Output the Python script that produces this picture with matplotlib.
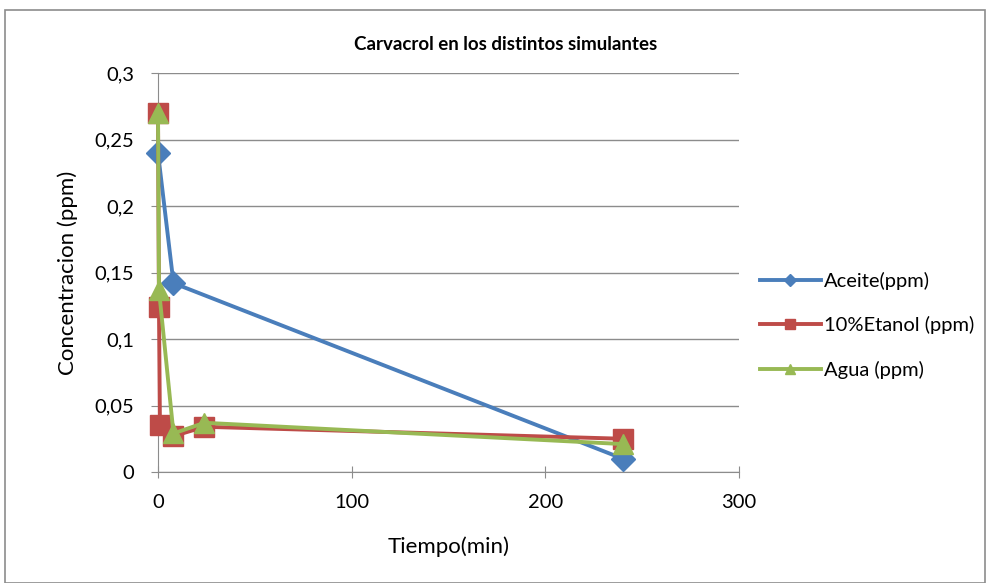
import matplotlib
matplotlib.use("Agg")
import matplotlib.pyplot as plt
from matplotlib.patches import Rectangle

plt.rcParams['font.family'] = ['Lato', 'DejaVu Sans']

# Data
aceite_x = [0, 8, 240]
aceite_y = [0.24, 0.142, 0.01]
etanol_x = [0, 0.5, 1, 8, 24, 240]
etanol_y = [0.27, 0.124, 0.035, 0.027, 0.034, 0.025]
agua_x = [0, 0.5, 8, 24, 240]
agua_y = [0.27, 0.137, 0.029, 0.037, 0.021]
series_names = ["Aceite(ppm)", "10%Etanol (ppm)", "Agua (ppm)"]
y_ticks = [0, 0.05, 0.1, 0.15, 0.2, 0.25, 0.3]
y_tick_labels = ["0", "0,05", "0,1", "0,15", "0,2", "0,25", "0,3"]
x_ticks = [0, 100, 200, 300]
x_tick_labels = ["0", "100", "200", "300"]

W, H = 990, 583
fig = plt.figure(figsize=(W / 100, H / 100), dpi=100)
ax = fig.add_axes([158 / W, 1 - 472 / H, (739 - 158) / W, (472 - 73) / H])

blue = "#4A7EBB"
red = "#BE4B48"
green = "#98B954"

ax.plot(aceite_x, aceite_y, color=blue, lw=2.8, marker="D", ms=12, label=series_names[0], zorder=3, clip_on=False)
ax.plot(etanol_x, etanol_y, color=red, lw=2.8, marker="s", ms=14, label=series_names[1], zorder=4, clip_on=False)
ax.plot(agua_x, agua_y, color=green, lw=2.8, marker="^", ms=14, label=series_names[2], zorder=5, clip_on=False)

ax.set_xlim(0, 300)
ax.set_ylim(0, 0.3)
ax.set_yticks(y_ticks)
ax.set_yticklabels(y_tick_labels)
ax.set_xticks(x_ticks)
ax.set_xticklabels(x_tick_labels)
ax.yaxis.grid(True, color="#8c8c8c", lw=1)
ax.set_axisbelow(True)
for s in ["top", "right"]:
    ax.spines[s].set_visible(False)
ax.spines["left"].set_color("#8c8c8c")
ax.spines["bottom"].set_color("#8c8c8c")
ax.tick_params(axis="both", labelsize=14.5, color="#8c8c8c", length=5)
ax.tick_params(axis="y", direction="out", pad=12)
ax.tick_params(axis="x", direction="inout", length=8, pad=12)

ax.set_xlabel("Tiempo(min)", fontsize=16, labelpad=18)
ax.set_ylabel("Concentracion (ppm)", fontsize=16, labelpad=12)
fig.text(506 / W, 1 - 45 / H, "Carvacrol en los distintos simulantes",
         ha="center", va="center", fontsize=13.5, fontweight="bold")

leg = fig.legend(loc="upper left", bbox_to_anchor=(742 / W, 1 - 254 / H), frameon=False,
                 fontsize=14.5, handlelength=3.0, labelspacing=1.3, handletextpad=0.15,
                 markerscale=0.55)

fig.patches.append(Rectangle((5 / W, 0), (985 - 5) / W, 1 - 10 / H, transform=fig.transFigure,
                             fill=False, edgecolor="#8c8c8c", lw=1.2))

fig.savefig("out.png", dpi=100)
